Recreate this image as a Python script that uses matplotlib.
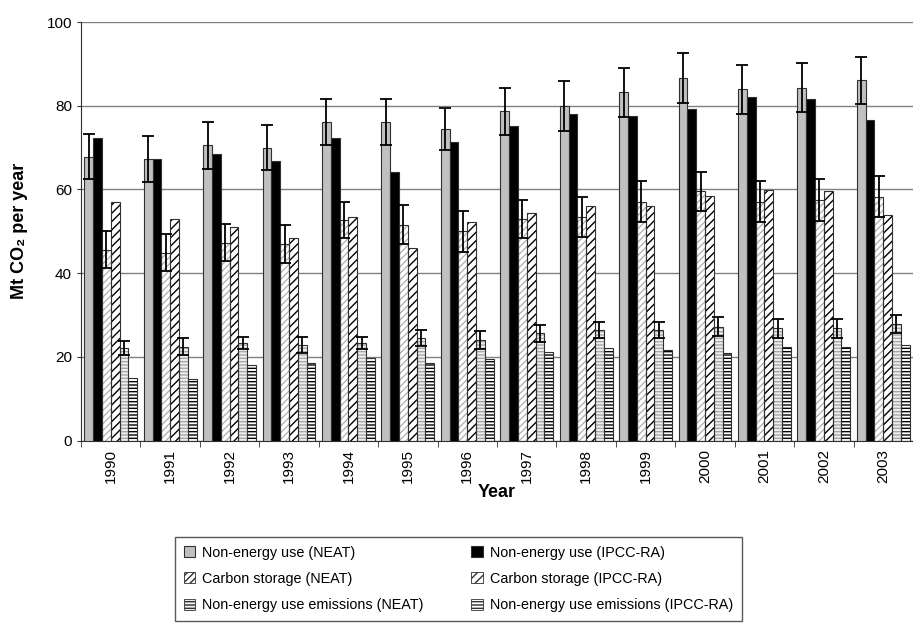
import matplotlib
matplotlib.use("Agg")
import matplotlib.pyplot as plt
from matplotlib.patches import Patch
import numpy as np

plt.rcParams['font.family'] = ['Liberation Sans', 'DejaVu Sans']
plt.rcParams['hatch.linewidth'] = 1.0

years = [str(y) for y in range(1990, 2004)]

neat_use = [67.8, 67.3, 70.5, 70.0, 76.0, 76.0, 74.4, 78.7, 79.9, 83.2, 86.6, 83.9, 84.3, 86.1]
neat_use_err = [5.4, 5.5, 5.6, 5.3, 5.5, 5.5, 5.1, 5.6, 5.9, 5.8, 5.9, 5.8, 5.9, 5.6]
ipcc_use = [72.4, 67.2, 68.5, 66.9, 72.4, 64.2, 71.3, 75.2, 78.0, 77.5, 79.2, 82.1, 81.5, 76.7]

neat_storage = [45.6, 44.9, 47.3, 47.0, 52.8, 51.6, 50.0, 52.9, 53.5, 57.1, 59.5, 57.1, 57.5, 58.3]
neat_storage_err = [4.4, 4.4, 4.5, 4.6, 4.3, 4.7, 4.9, 4.6, 4.8, 4.8, 4.7, 4.8, 5.1, 4.8]
ipcc_storage = [57.1, 52.9, 50.9, 48.5, 53.4, 46.1, 52.1, 54.4, 56.1, 56.1, 58.5, 59.9, 59.5, 53.9]

neat_emis = [22.1, 22.4, 23.3, 22.8, 23.3, 24.4, 24.0, 25.6, 26.4, 26.4, 27.2, 26.8, 26.8, 27.8]
neat_emis_err = [1.6, 2.0, 1.5, 2.0, 1.5, 1.9, 2.2, 2.0, 2.0, 2.0, 2.3, 2.2, 2.2, 2.1]
ipcc_emis = [14.9, 14.6, 18.1, 18.5, 19.7, 18.5, 19.4, 21.2, 22.1, 21.7, 20.9, 22.4, 22.4, 22.8]

labels = ["Non-energy use (NEAT)", "Non-energy use (IPCC-RA)",
          "Carbon storage (NEAT)", "Carbon storage (IPCC-RA)",
          "Non-energy use emissions (NEAT)", "Non-energy use emissions (IPCC-RA)"]

# (values, errors, face colour, hatch, hatch colour)
series = [
    (neat_use, neat_use_err, "#c0c0c0", None, None),
    (ipcc_use, None, "black", None, None),
    (neat_storage, neat_storage_err, "white", "/////", "#b4b4b4"),
    (ipcc_storage, None, "white", "////", "black"),
    (neat_emis, neat_emis_err, "#eeeeee", "-----", "#a8a8a8"),
    (ipcc_emis, None, "white", "-----", "black"),
]

fig = plt.figure(figsize=(9.13, 6.35), dpi=100)
ax = fig.add_axes([81 / 913, 1 - 440.5 / 635, 1 - 81 / 913, (440.5 - 22) / 635])

x = np.arange(len(years))
w = 0.148
handles = []
for i, (vals, err, fc, hatch, hc) in enumerate(series):
    pos = x + (i - 2.5) * w
    if hatch:
        ax.bar(pos, vals, w, color=fc, hatch=hatch, edgecolor=hc, linewidth=0, zorder=2)
        ax.bar(pos, vals, w, fill=False, edgecolor="#303030", linewidth=0.8, zorder=3)
        handles.append(Patch(facecolor=fc, hatch=hatch, edgecolor="#303030", linewidth=0.6))
    else:
        h = ax.bar(pos, vals, w, color=fc, edgecolor="#303030", linewidth=0.8, zorder=3)
        handles.append(h[0])
    if err is not None:
        ax.errorbar(pos, vals, yerr=err, fmt="none", ecolor="black", elinewidth=1.3,
                    capsize=4, capthick=1.3, zorder=4)

ax.set_xlim(-0.5, -0.5 + 832 / 60)
ax.set_ylim(0, 100)
ax.set_yticks(range(0, 101, 20))
ax.yaxis.grid(True, color="#808080", linewidth=1.0, zorder=0)
ax.set_axisbelow(True)

ax.set_xticks(x)
ax.set_xticklabels(years, rotation=90, fontsize=11)
ax.tick_params(axis="x", which="major", length=0, pad=6)
ax.set_xticks(np.arange(-0.5, len(years), 1), minor=True)
ax.tick_params(axis="x", which="minor", length=4, direction="out", color="#303030")
ax.tick_params(axis="y", labelsize=11, length=3, color="#303030")

for s in ["top", "right"]:
    ax.spines[s].set_visible(False)
for s in ["left", "bottom"]:
    ax.spines[s].set_color("#303030")

ax.set_xlabel("Year", fontsize=13, fontweight="bold", labelpad=1)
ax.set_ylabel("Mt CO\u2082 per year", fontsize=13, fontweight="bold", labelpad=13)

order = [0, 2, 4, 1, 3, 5]
fig.legend([handles[k] for k in order], [labels[k] for k in order], ncol=2,
           loc="upper left", bbox_to_anchor=(175 / 913, 2 / 635, (742 - 175) / 913, 96 / 635),
           mode="expand", fontsize=10.4, frameon=True, fancybox=False, edgecolor="#303030",
           handlelength=0.8, handleheight=0.8, handletextpad=0.5, borderaxespad=0,
           labelspacing=0.85, borderpad=0.6)

fig.savefig("out.png", dpi=100)
